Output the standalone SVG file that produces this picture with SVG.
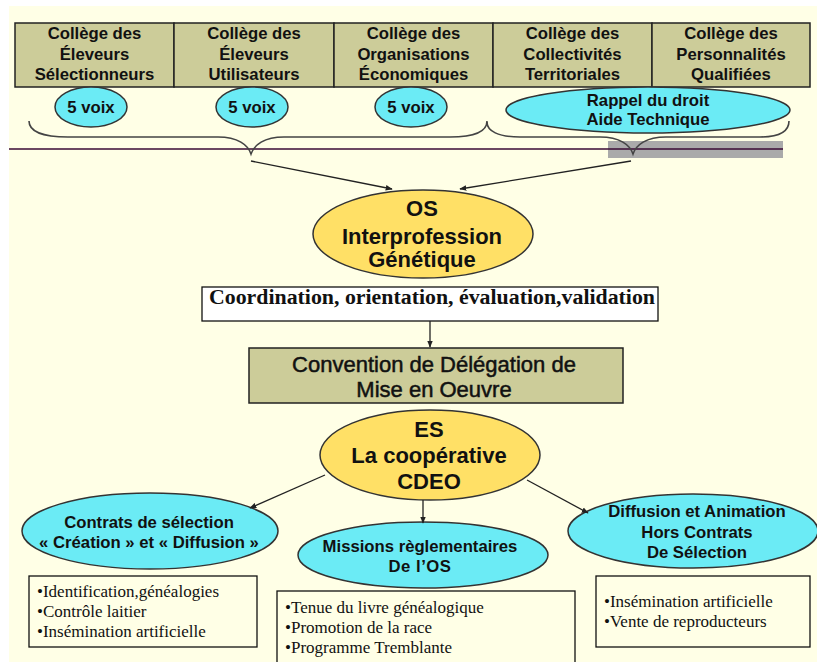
<svg xmlns="http://www.w3.org/2000/svg" width="817" height="662" viewBox="0 0 817 662">
<defs>
<marker id="ah" viewBox="0 0 10 10" refX="9" refY="5" markerWidth="7" markerHeight="7" markerUnits="userSpaceOnUse" orient="auto">
<path d="M0,1 L10,5 L0,9 Z" fill="#222"/>
</marker>
<style>
.college{fill:#CCCC99;stroke:#222;stroke-width:1.5}
.cyan{fill:#6BEBF5;stroke:#333;stroke-width:1.5}
.gold{fill:#FFE066;stroke:#333;stroke-width:1.5}
.box{fill:#FFFFE6;stroke:#111;stroke-width:1.3}
.b{font-family:"Liberation Sans",Arial,sans-serif;font-weight:bold;font-size:16.7px;fill:#111;text-anchor:middle}
.big{font-family:"Liberation Sans",Arial,sans-serif;font-weight:bold;font-size:22px;fill:#111;text-anchor:middle}
.conv{font-family:"Liberation Sans",Arial,sans-serif;font-size:22px;fill:#111;stroke:#111;stroke-width:0.5;text-anchor:middle}
.tb{font-family:"Liberation Serif","Times New Roman",serif;font-weight:bold;font-size:20px;fill:#111;text-anchor:middle}
.t{font-family:"Liberation Serif","Times New Roman",serif;font-size:17px;fill:#111}
.brace{fill:none;stroke:#444;stroke-width:1.6}
.conn{fill:none;stroke:#222;stroke-width:1.3;marker-end:url(#ah)}
</style>
</defs>
<rect x="9" y="6" width="808" height="656" fill="#FFFFE6"/>

<g id="colleges">
<g id="college-selectionneurs">
<rect class="college" x="15" y="23" width="159" height="64"/>
<text class="b" x="94.5" y="39">Collège des</text>
<text class="b" x="94.5" y="59.5">Éleveurs</text>
<text class="b" x="94.5" y="80">Sélectionneurs</text>
</g>
<g id="college-utilisateurs">
<rect class="college" x="174" y="23" width="160" height="64"/>
<text class="b" x="254" y="39">Collège des</text>
<text class="b" x="254" y="59.5">Éleveurs</text>
<text class="b" x="254" y="80">Utilisateurs</text>
</g>
<g id="college-organisations">
<rect class="college" x="334" y="23" width="159" height="64"/>
<text class="b" x="413.5" y="39">Collège des</text>
<text class="b" x="413.5" y="59.5">Organisations</text>
<text class="b" x="413.5" y="80">Économiques</text>
</g>
<g id="college-collectivites">
<rect class="college" x="493" y="23" width="159" height="64"/>
<text class="b" x="572.5" y="39">Collège des</text>
<text class="b" x="572.5" y="59.5">Collectivités</text>
<text class="b" x="572.5" y="80">Territoriales</text>
</g>
<g id="college-personnalites">
<rect class="college" x="652" y="23" width="158" height="64"/>
<text class="b" x="731" y="39">Collège des</text>
<text class="b" x="731" y="59.5">Personnalités</text>
<text class="b" x="731" y="80">Qualifiées</text>
</g>
</g>

<g id="voix-1">
<ellipse class="cyan" cx="91" cy="107" rx="36" ry="20"/>
<text class="b" x="91" y="113">5 voix</text>
</g>
<g id="voix-2">
<ellipse class="cyan" cx="252" cy="107" rx="36" ry="20"/>
<text class="b" x="252" y="113">5 voix</text>
</g>
<g id="voix-3">
<ellipse class="cyan" cx="411" cy="107" rx="36" ry="20"/>
<text class="b" x="411" y="113">5 voix</text>
</g>
<g id="rappel">
<ellipse class="cyan" cx="648" cy="110" rx="142" ry="23"/>
<text class="b" x="648" y="106">Rappel du droit</text>
<text class="b" x="648" y="125">Aide Technique</text>
</g>

<g id="separator">
<rect x="608" y="141" width="175" height="17" fill="#AAAAAA"/>
<line x1="9" y1="149" x2="783" y2="149" stroke="#3A0A35" stroke-width="1.5"/>
<path class="brace" d="M29 121 C29 131 42 137 68 137 L218 137 C238 137 248 145 251 154 C254 145 264 137 284 137 L450 137 C476 137 487 131 487 121"/>
<path class="brace" d="M487 122 C487 131 498 137 520 137 L600 137 C620 137 630 145 633 154 C636 145 646 137 666 137 L760 137 C780 137 789 131 789 121"/>
</g>

<g id="os">
<ellipse class="gold" cx="423" cy="234" rx="110" ry="44"/>
<text class="big" x="422" y="216">OS</text>
<text class="big" x="422" y="244">Interprofession</text>
<text class="big" x="422" y="267">Génétique</text>
</g>

<g id="coordination">
<rect class="box" x="202" y="287" width="456" height="34" style="fill:#FFFFFF"/>
<text class="tb" x="432" y="304" textLength="446" lengthAdjust="spacingAndGlyphs">Coordination, orientation, évaluation,validation</text>
</g>

<g id="convention">
<rect class="college" x="249" y="348" width="374" height="55"/>
<text class="conv" x="434" y="372">Convention de Délégation de</text>
<text class="conv" x="434" y="397">Mise en Oeuvre</text>
</g>

<g id="es">
<ellipse class="gold" cx="430" cy="455" rx="110" ry="45"/>
<text class="big" x="429" y="437">ES</text>
<text class="big" x="429" y="463">La coopérative</text>
<text class="big" x="429" y="489">CDEO</text>
</g>

<g id="contrats">
<ellipse class="cyan" cx="150" cy="531" rx="128" ry="38"/>
<text class="b" x="149" y="528">Contrats de sélection</text>
<text class="b" x="149" y="548">« Création » et « Diffusion »</text>
</g>

<g id="missions">
<ellipse class="cyan" cx="423" cy="555" rx="125" ry="33"/>
<text class="b" x="420" y="552">Missions règlementaires</text>
<text class="b" x="420" y="572" letter-spacing="0.5">De l’OS</text>
</g>

<g id="diffusion">
<ellipse class="cyan" cx="693" cy="531" rx="125" ry="37"/>
<text class="b" x="697" y="517">Diffusion et Animation</text>
<text class="b" x="697" y="538">Hors Contrats</text>
<text class="b" x="697" y="558">De Sélection</text>
</g>

<g id="list-contrats">
<rect class="box" x="29" y="576" width="228" height="71"/>
<text class="t" x="37" y="597">•Identification,généalogies</text>
<text class="t" x="37" y="617">•Contrôle laitier</text>
<text class="t" x="37" y="637">•Insémination artificielle</text>
</g>

<g id="list-missions">
<rect class="box" x="277" y="591" width="298" height="80"/>
<text class="t" x="285" y="613">•Tenue du livre généalogique</text>
<text class="t" x="285" y="633">•Promotion de la race</text>
<text class="t" x="285" y="653">•Programme Tremblante</text>
</g>

<g id="list-diffusion">
<rect class="box" x="596" y="576" width="214" height="71"/>
<text class="t" x="604" y="607">•Insémination artificielle</text>
<text class="t" x="604" y="627">•Vente de reproducteurs</text>
</g>

<g id="connectors">
<line class="conn" x1="251" y1="161" x2="392" y2="189"/>
<line class="conn" x1="631" y1="161" x2="460" y2="189"/>
<line class="conn" x1="430" y1="321" x2="430" y2="347"/>
<line class="conn" x1="325" y1="475" x2="250" y2="508"/>
<line class="conn" x1="423" y1="500" x2="423" y2="523"/>
<line class="conn" x1="527" y1="480" x2="588" y2="513"/>
</g>
</svg>
